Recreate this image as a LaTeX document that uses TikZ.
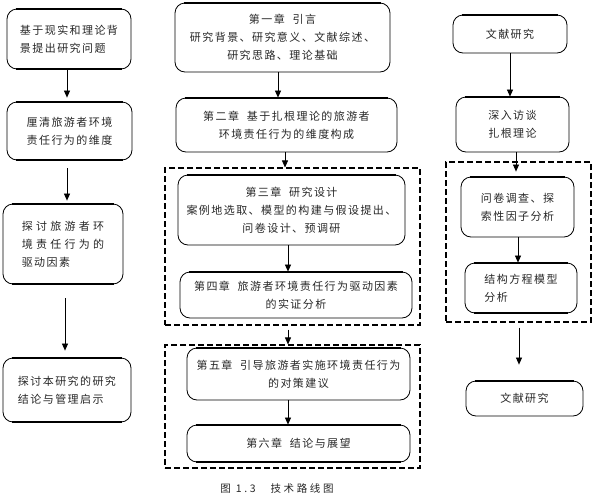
\documentclass[tikz,border=0pt]{standalone}
\usepackage{fontspec}
\newfontfamily\cjk[LetterSpace=13]{Noto Sans CJK SC}
\usetikzlibrary{arrows.meta,calc}
\begin{document}
\begin{tikzpicture}[x=1pt,y=-1pt,
  box/.style={draw=black, line width=0.8pt, rounded corners=10pt, inner sep=0pt,
    font=\cjk\fontsize{11}{18}\selectfont, text=black!85},
  dbox/.style={draw=black, line width=1.1pt, dash pattern=on 6pt off 3pt, inner sep=0pt},
  arr/.style={draw=black, line width=0.7pt, -{Triangle[length=7pt,width=6pt]}},
  topedge/.style={line width=2pt}
]
\useasboundingbox (0,0) rectangle (600,501);
% dashed groups
\node[dbox, minimum width=255pt, minimum height=157pt] (d1) at (292.5,246.5) {};
\node[dbox, minimum width=255pt, minimum height=123pt] (d2) at (292.5,406.5) {};
\node[dbox, minimum width=145pt, minimum height=160pt] (d3) at (518.5,242) {};
% left column
\node[box, align=left, minimum width=124pt, minimum height=60pt] (b1) at (69,39) {基于现实和理论背\\景提出研究问题};
\node[box, align=left, minimum width=125pt, minimum height=58pt] (b2) at (69.5,131) {厘清旅游者环境\\责任行为的维度};
\node[box, align=left, minimum width=120pt, minimum height=80pt] (b3) at (63,244) {{\addfontfeature{LetterSpace=30}探讨旅游者环}\\{\addfontfeature{LetterSpace=30}境责任行为的}\\驱动因素};
\node[box, align=left, minimum width=128pt, minimum height=64pt] (b4) at (67,390) {探讨本研究的研究\\结论与管理启示};
% middle column
\node[box, align=center, minimum width=215pt, minimum height=69pt] (c1) at (282.5,37.5) {第一章\ \ 引言\\研究背景、研究意义、文献综述、\\研究思路、理论基础};
\node[box, align=center, minimum width=221pt, minimum height=54pt] (c2) at (286.5,125) {第二章\ \ 基于扎根理论的旅游者\\环境责任行为的维度构成};
\node[box, align=center, minimum width=227pt, minimum height=70pt] (c3) at (291.5,210) {第三章\ \ 研究设计\\案例地选取、模型的构建与假设提出、\\问卷设计、预调研\hspace{24pt}};
\node[box, align=center, minimum width=232pt, minimum height=46pt] (c4) at (296,295) {第四章\ \ 旅游者环境责任行为驱动因素\\的实证分析\hspace{30pt}};
\node[box, align=center, minimum width=223pt, minimum height=52pt] (c5) at (298.5,374) {第五章\ \ 引导旅游者实施环境责任行为\\的对策建议\hspace{30pt}};
\node[box, align=center, minimum width=223pt, minimum height=37pt] (c6) at (298.5,443.5) {第六章\ \ 结论与展望};
% right column
\node[box, align=center, minimum width=114pt, minimum height=38pt] (r1) at (510,34) {文献研究};
\node[box, align=center, minimum width=113pt, minimum height=55pt] (r2) at (512.5,124.5) {深入访谈\\扎根理论};
\node[box, align=left, minimum width=113pt, minimum height=60pt] (r3) at (517.5,207) {问卷调查、探\\索性因子分析};
\node[box, align=left, minimum width=112pt, minimum height=50pt] (r4) at (521,288) {结构方程模型\\分析};
\node[box, align=center, minimum width=117pt, minimum height=35pt] (r5) at (524.5,398.5) {文献研究};
% caption
\node[font=\cjk\fontsize{10.5}{12}\selectfont, text=black!85] (cap) at (277,488) {{\addfontfeature{LetterSpace=25}图 1.3\ \ \ 技术路线图}};
% thick top edges
\foreach \n in {b1,b2,b3,b4,c1,c2,c3,c4,c5,c6,r1,r2,r3,r4,r5}{
  \draw[topedge] ([xshift=9pt]\n.north west) -- ([xshift=-9pt]\n.north east);
}
\foreach \n in {b1,b2,b3,b4,c6,r4}{
  \draw[topedge] ([xshift=9pt]\n.south west) -- ([xshift=-9pt]\n.south east);
}
% arrow x positions
\coordinate (xa) at (67,0);
\coordinate (xb) at (65,0);
\coordinate (xc) at (278,0);
\coordinate (xd) at (285,0);
\coordinate (xe) at (288,0);
\coordinate (xf) at (510,0);
\coordinate (xg) at (516,0);
\coordinate (xh) at (518,0);
\coordinate (xi) at (519,0);
% left arrows
\draw[arr, shorten >=4pt] (b1.south -| xa) -- (b2.north -| xa);
\draw[arr, shorten <=8pt, shorten >=3pt] (b2.south -| xa) -- (b3.north -| xa);
\draw[arr, shorten <=14pt, shorten >=7pt] (b3.south -| xb) -- (b4.north -| xb);
% middle arrows
\draw[arr] (c1.south -| xc) -- (c2.north -| xc);
\draw[arr] (c2.south -| xd) -- (d1.north -| xd);
\draw[arr] (c3.south -| xe) -- (c4.north -| xe);
\draw[arr, shorten <=4pt] (d1.south -| xe) -- (d2.north -| xe);
\draw[arr] (c5.south -| xe) -- (c6.north -| xe);
% right arrows
\draw[arr] (r1.south -| xf) -- (r2.north -| xf);
\draw[arr, shorten >=5pt] (r2.south -| xg) -- (r3.north -| xg);
\draw[arr] (r3.south -| xh) -- (r4.north -| xh);
\draw[arr, shorten <=5pt, shorten >=16pt] (d3.south -| xi) -- (r5.north -| xi);
\end{tikzpicture}
\end{document}
